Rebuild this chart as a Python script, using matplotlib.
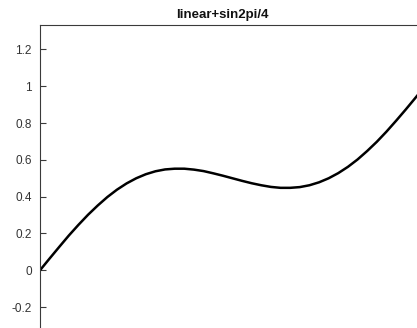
import matplotlib
matplotlib.use('Agg')
import matplotlib.pyplot as plt
import matplotlib.ticker as mticker

plt.rcParams['font.family'] = ['Liberation Sans', 'DejaVu Sans']

# sampled curve: linear trend plus a quarter-amplitude sine wave
x_vals = [0.0, 0.025, 0.05, 0.075, 0.1, 0.125, 0.15, 0.175, 0.2, 0.225,
          0.25, 0.275, 0.3, 0.325, 0.35, 0.375, 0.4, 0.425, 0.45, 0.475,
          0.5, 0.525, 0.55, 0.575, 0.6, 0.625, 0.65, 0.675, 0.7, 0.725,
          0.75, 0.775, 0.8, 0.825, 0.85, 0.875, 0.9, 0.925, 0.95, 0.975, 1.0]
y_vals = [0.0, 0.064, 0.127, 0.189, 0.247, 0.302, 0.352, 0.398, 0.438, 0.472,
          0.5, 0.522, 0.538, 0.548, 0.552, 0.552, 0.547, 0.539, 0.527, 0.514,
          0.5, 0.486, 0.473, 0.462, 0.453, 0.448, 0.448, 0.452, 0.462, 0.478,
          0.5, 0.528, 0.562, 0.602, 0.648, 0.698, 0.753, 0.812, 0.873, 0.936, 1.0]
y_ticks = [-0.2, 0, 0.2, 0.4, 0.6, 0.8, 1, 1.2]
title = 'linear+sin2pi/4'

fig = plt.figure(figsize=(4.17, 3.28), dpi=100)
ax = fig.add_axes([0.0959, -0.011, 0.923, 0.935])

ax.plot(x_vals, y_vals, color='black', linewidth=1.8, solid_capstyle='butt')

ax.set_xlim(0, 1)
ax.set_ylim(-1/3, 4/3)
ax.set_yticks(y_ticks)
ax.yaxis.set_major_formatter(mticker.FormatStrFormatter('%g'))
ax.set_xticks([])

for side in ['right', 'bottom']:
    ax.spines[side].set_visible(False)
for side in ['left', 'top']:
    ax.spines[side].set_color('#3a3a3a')
    ax.spines[side].set_linewidth(0.8)

ax.tick_params(axis='y', direction='in', length=4, width=0.8, color='#3a3a3a',
               labelsize=8.5, labelcolor='#333333', pad=6)

ax.set_title(title, fontsize=9.5, fontweight='bold', color='#111111',
             x=(222 - 40) / 385, pad=5)

fig.savefig('out.png', dpi=100, facecolor='white')
plt.close(fig)
